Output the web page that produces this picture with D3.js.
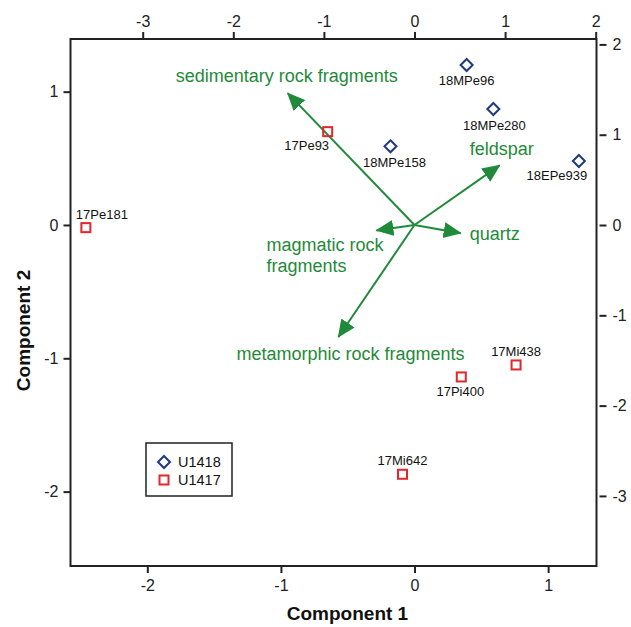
<!DOCTYPE html>
<html>
<head>
<meta charset="utf-8">
<script src="https://cdn.jsdelivr.net/npm/d3@7"></script>
<style>
  body { margin: 0; background: #fff; }
  svg { display: block; font-family: "Liberation Sans", Arial, sans-serif; }
</style>
</head>
<body>
<svg width="631" height="627"></svg>
<script>
// sample scores (Component 1, Component 2)
const sampleNames = ["17Pe181", "17Pe93", "18MPe158", "18MPe96", "18MPe280", "18EPe939", "17Mi438", "17Pi400", "17Mi642"];
const sampleSite = ["U1417", "U1417", "U1418", "U1418", "U1418", "U1418", "U1417", "U1417", "U1417"];
const comp1 = [-2.46, -0.65, -0.18, 0.39, 0.59, 1.23, 0.76, 0.35, -0.09];
const comp2 = [-0.02, 0.70, 0.59, 1.20, 0.87, 0.48, -1.05, -1.14, -1.87];

// variable loadings (top / right axes)
const loadNames = ["sedimentary rock fragments", "feldspar", "quartz", "magmatic rock|fragments", "metamorphic rock fragments"];
const load1 = [-1.40, 0.94, 0.51, -0.42, -0.84];
const load2 = [1.46, 0.66, -0.09, -0.06, -1.24];

const bottomTicks = [-2, -1, 0, 1];
const leftTicks = [-2, -1, 0, 1];
const topTicks = [-3, -2, -1, 0, 1, 2];
const rightTicks = [-3, -2, -1, 0, 1, 2];
const legendItems = ["U1418", "U1417"];

// layout (label offsets are pixels relative to the marks)
const frame = { left: 70.5, right: 596.5, top: 39, bottom: 566 };
const sampleLabelOffset = [[16, -13], [-21, 14], [4, 16], [0, 16], [1, 17], [-22, 15], [0, -13], [-1, 15], [0, -14]];
const loadLabelOffset = [[-112, -11], [-30, -10], [9, 7], [-110, 21], [-102, 23]];

const green = "#1f8a3a";
const red = "#e3262b";
const navy = "#1f3a7d";
const ink = "#222";

const svg = d3.select("svg");

const x = d3.scaleLinear().domain([-2.575, 1.362]).range([frame.left, frame.right]);
const y = d3.scaleLinear().domain([-2.558, 1.395]).range([frame.bottom, frame.top]);
const x2 = d3.scaleLinear().domain([-3.797, 2.009]).range([frame.left, frame.right]);
const y2 = d3.scaleLinear().domain([-3.776, 2.06]).range([frame.bottom, frame.top]);

const fmt = d => String(d);

function styleAxis(g) {
  g.select(".domain").remove();
  g.selectAll(".tick line").attr("stroke", ink).attr("stroke-width", 2);
  g.selectAll(".tick text").attr("fill", ink).attr("font-size", 16)
    .attr("font-family", "Liberation Sans, Arial, sans-serif");
}

svg.append("g")
  .attr("transform", `translate(0,${frame.bottom})`)
  .call(d3.axisBottom(x).tickValues(bottomTicks).tickSize(7).tickPadding(7).tickFormat(fmt))
  .call(styleAxis);

svg.append("g")
  .attr("transform", `translate(${frame.left},0)`)
  .call(d3.axisLeft(y).tickValues(leftTicks).tickSize(7).tickPadding(5).tickFormat(fmt))
  .call(styleAxis);

svg.append("g")
  .attr("transform", `translate(0,${frame.top})`)
  .call(d3.axisTop(x2).tickValues(topTicks).tickSize(7).tickPadding(5).tickFormat(fmt))
  .call(styleAxis);

svg.append("g")
  .attr("transform", `translate(${frame.right + 3},0)`)
  .call(d3.axisRight(y2).tickValues(rightTicks).tickSize(7).tickPadding(6).tickFormat(fmt))
  .call(styleAxis);

// frame
svg.append("rect")
  .attr("x", frame.left)
  .attr("y", frame.top)
  .attr("width", frame.right - frame.left)
  .attr("height", frame.bottom - frame.top)
  .attr("fill", "none")
  .attr("stroke", ink)
  .attr("stroke-width", 2);

// axis titles
svg.append("text")
  .attr("x", (frame.left + frame.right) / 2 + 14)
  .attr("y", 620)
  .attr("text-anchor", "middle")
  .attr("font-size", 19)
  .attr("font-weight", "bold")
  .attr("fill", "#111")
  .text("Component 1");

svg.append("text")
  .attr("transform", `translate(30,${(frame.top + frame.bottom) / 2 + 28}) rotate(-90)`)
  .attr("text-anchor", "middle")
  .attr("font-size", 19)
  .attr("font-weight", "bold")
  .attr("fill", "#111")
  .text("Component 2");

// arrows
svg.append("defs").append("marker")
  .attr("id", "head")
  .attr("markerUnits", "userSpaceOnUse")
  .attr("markerWidth", 18)
  .attr("markerHeight", 18)
  .attr("viewBox", "0 0 18 18")
  .attr("refX", 17)
  .attr("refY", 9)
  .attr("orient", "auto")
  .append("path")
  .attr("d", "M0,1 L18,9 L0,17 Z")
  .attr("fill", green);

const loads = loadNames.map((name, i) => ({ name, a: load1[i], b: load2[i], off: loadLabelOffset[i] }));

svg.selectAll("line.load")
  .data(loads)
  .join("line")
  .attr("class", "load")
  .attr("x1", x2(0))
  .attr("y1", y2(0))
  .attr("x2", d => x2(d.a))
  .attr("y2", d => y2(d.b))
  .attr("stroke", green)
  .attr("stroke-width", 2)
  .attr("marker-end", "url(#head)");

svg.selectAll("text.load")
  .data(loads)
  .join("text")
  .attr("class", "load")
  .attr("x", d => x2(d.a) + d.off[0])
  .attr("y", d => y2(d.b) + d.off[1])
  .attr("font-size", 18)
  .attr("fill", green)
  .each(function (d) {
    const lines = d.name.split("|");
    d3.select(this).selectAll("tspan")
      .data(lines)
      .join("tspan")
      .attr("x", x2(d.a) + d.off[0])
      .attr("dy", (l, j) => (j === 0 ? 0 : 21))
      .text(l => l);
  });

// sample points
const samples = sampleNames.map((name, i) => ({
  name, site: sampleSite[i], c1: comp1[i], c2: comp2[i], off: sampleLabelOffset[i]
}));

function drawMarker(sel, site) {
  if (site === "U1418") {
    sel.append("path")
      .attr("d", "M0,-6 L6,0 L0,6 L-6,0 Z")
      .attr("fill", "none")
      .attr("stroke", navy)
      .attr("stroke-width", 2);
  } else {
    sel.append("rect")
      .attr("x", -4.5).attr("y", -4.5)
      .attr("width", 9).attr("height", 9)
      .attr("fill", "none")
      .attr("stroke", red)
      .attr("stroke-width", 2);
  }
}

const pts = svg.selectAll("g.pt")
  .data(samples)
  .join("g")
  .attr("class", "pt")
  .attr("transform", d => `translate(${x(d.c1)},${y(d.c2)})`);

pts.each(function (d) { drawMarker(d3.select(this), d.site); });

pts.append("text")
  .attr("x", d => d.off[0])
  .attr("y", d => d.off[1] + 4.5)
  .attr("text-anchor", "middle")
  .attr("font-size", 13)
  .attr("fill", "#111")
  .text(d => d.name);

// legend
const legend = svg.append("g").attr("transform", "translate(146,443)");
legend.append("rect")
  .attr("width", 86)
  .attr("height", 53)
  .attr("fill", "#fff")
  .attr("stroke", ink)
  .attr("stroke-width", 1.5);

legendItems.forEach((site, i) => {
  const row = legend.append("g").attr("transform", `translate(18,${19 + i * 18})`);
  drawMarker(row, site);
  row.append("text")
    .attr("x", 14)
    .attr("y", 5)
    .attr("font-size", 14.5)
    .attr("fill", "#111")
    .text(site);
});
</script>
</body>
</html>
